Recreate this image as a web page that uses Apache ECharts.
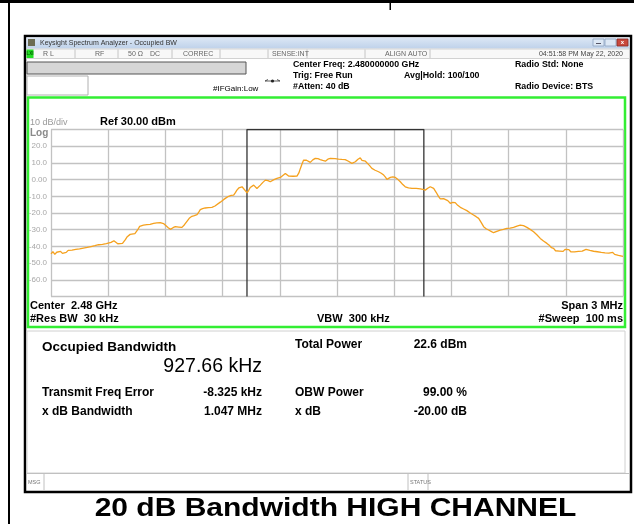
<!DOCTYPE html>
<html>
<head>
<meta charset="utf-8">
<script src="https://cdn.jsdelivr.net/npm/echarts@6/dist/echarts.min.js"></script>
<style>
html, body { margin: 0; padding: 0; background: #fff; }
#chart { width: 634px; height: 524px; }
</style>
</head>
<body>
<div id="chart"></div>
<script>
// trace: offset from center 2.48 GHz (kHz) and level (dBm)
const freqKHz = [
  -1500, -1490, -1480, -1470, -1460, -1450, -1440, -1430, -1420, -1410,
  -1400, -1390, -1380, -1370, -1360, -1350, -1340, -1330, -1320, -1310,
  -1300, -1290, -1280, -1270, -1260, -1250, -1240, -1230, -1220, -1210,
  -1200, -1185, -1170, -1160, -1150, -1140, -1125, -1110, -1100, -1085,
  -1075, -1060, -1045, -1035, -1015, -997, -980, -962, -945, -927,
  -910, -900, -885, -874, -860, -848, -830, -813, -800, -787,
  -775, -761, -748, -734, -725, -717, -705, -691, -675, -656,
  -640, -630, -612, -595, -580, -568, -555, -542, -533, -525,
  -515, -507, -498, -490, -480, -472, -463, -455, -446, -437,
  -428, -420, -410, -402, -390, -376, -362, -350, -333, -315,
  -297, -284, -271, -262, -254, -230, -210, -200, -192, -183,
  -175, -160, -150, -140, -127, -114, -100, -88, -75, -61,
  -48, -35, -26, -10, 8, 25, 43, 60, 78, 88,
  96, 110, 122, 131, 140, 149, 157, 170, 183, 200,
  218, 232, 245, 254, 262, 271, 280, 293, 306, 320,
  332, 345, 358, 375, 393, 415, 437, 450, 463, 476,
  489, 498, 507, 520, 533, 542, 550, 559, 568, 581,
  594, 607, 620, 633, 647, 664, 681, 699, 716, 730,
  743, 756, 769, 782, 795, 808, 821, 838, 856, 873,
  891, 908, 926, 944, 961, 978, 996, 1013, 1031, 1048,
  1066, 1083, 1101, 1115, 1125, 1136, 1146, 1156, 1166, 1176,
  1186, 1196, 1206, 1216, 1226, 1236, 1246, 1256, 1266, 1276,
  1286, 1296, 1306, 1316, 1326, 1336, 1346, 1356, 1366, 1376,
  1386, 1396, 1406, 1416, 1426, 1436, 1446, 1456, 1466, 1476,
  1486, 1500
];
const levelDbm = [
  -44.5, -43.2, -44.8, -43.5, -44.0, -43.0, -44.2, -43.1, -43.6, -42.4,
  -43.4, -42.2, -43.0, -41.8, -42.6, -41.5, -42.3, -41.0, -41.9, -40.6,
  -41.2, -40.1, -40.8, -39.6, -40.2, -39.0, -39.6, -38.8, -39.2, -38.3,
  -38.4, -37.6, -36.6, -37.6, -38.4, -37.9, -38.2, -36.0, -34.2, -32.8,
  -32.0, -32.3, -30.0, -28.0, -27.3, -27.0, -26.8, -26.2, -25.9, -25.8,
  -26.3, -27.0, -28.8, -29.8, -28.8, -28.2, -28.4, -28.6, -27.0, -25.0,
  -23.2, -22.0, -21.6, -21.0, -19.5, -18.0, -17.4, -17.0, -16.8, -16.6,
  -15.8, -15.0, -13.5, -12.0, -10.8, -10.0, -9.4, -9.3, -7.8, -6.3,
  -5.0, -4.0, -4.3, -5.3, -6.8, -8.0, -6.4, -4.7, -3.8, -3.3,
  -4.2, -5.3, -4.4, -3.3, -1.8, -0.3, -0.6, -1.3, -0.2, 0.7,
  1.3, 2.5, 3.7, 2.8, 2.1, 2.0, 2.1, 4.0, 6.7, 9.5,
  11.7, 11.6, 10.8, 10.3, 11.8, 12.7, 12.5, 12.0, 11.5, 11.0,
  12.2, 12.7, 13.0, 12.6, 12.3, 12.1, 12.0, 11.0, 9.7, 10.2,
  10.7, 12.2, 13.0, 11.5, 10.7, 11.0, 11.0, 8.5, 6.7, 5.6,
  4.7, 3.8, 2.7, 1.5, 0.1, 1.0, 1.3, 1.6, 1.3, 0.0,
  -1.3, -3.0, -4.3, -5.0, -5.3, -5.3, -5.5, -5.8, -6.3, -5.2,
  -4.3, -4.6, -5.3, -7.6, -10.2, -11.5, -12.2, -11.4, -10.6, -12.6,
  -14.2, -13.7, -13.8, -15.4, -16.6, -17.6, -18.6, -20.0, -21.2, -22.2,
  -23.2, -25.6, -28.2, -29.4, -30.2, -31.0, -31.8, -31.0, -30.2, -29.8,
  -29.2, -29.0, -28.6, -27.8, -27.2, -27.6, -28.6, -29.8, -31.2, -33.0,
  -35.2, -36.8, -38.2, -39.5, -40.8, -41.2, -42.6, -41.6, -42.8, -42.0,
  -43.0, -41.8, -42.6, -41.9, -43.2, -42.4, -43.3, -42.2, -43.0, -41.9,
  -42.8, -42.3, -41.8, -42.9, -42.4, -43.5, -42.9, -43.8, -43.2, -44.3,
  -43.6, -44.6, -43.9, -44.8, -44.0, -45.0, -43.6, -44.8, -44.2, -45.4,
  -44.6, -46.0
];

// measurement results
const obwKHz = 927.66;
const freqErrKHz = -8.325;

// y tick labels (ref 30 dBm, 10 dB/div)
const yTickValues = [20, 10, 0, -10, -20, -30, -40, -50, -60];
const yTickLabels = ['20.0', '10.0', '0.00', '-10.0', '-20.0', '-30.0', '-40.0', '-50.0', '-60.0'];

const traceData = freqKHz.map((f, i) => [f, levelDbm[i]]);
const obwLo = freqErrKHz - obwKHz / 2;
const obwHi = freqErrKHz + obwKHz / 2;
const obwData = [[obwLo, -70], [obwLo, 30], [obwHi, 30], [obwHi, -70]];

const FONT = "'Liberation Sans', Arial, sans-serif";

function txt(x, y, s, size, color, weight, align) {
  return {
    type: 'text', x: x, y: y, silent: true,
    style: {
      text: s, fill: color || '#000',
      font: (weight || 'normal') + ' ' + size + 'px ' + FONT,
      textAlign: align || 'left', textVerticalAlign: 'middle'
    }
  };
}
function box(x, y, w, h, fill, stroke, lw) {
  return {
    type: 'rect', silent: true,
    shape: { x: x, y: y, width: w, height: h },
    style: { fill: fill || 'none', stroke: stroke || 'none', lineWidth: lw || 1 }
  };
}
function ln(x1, y1, x2, y2, color, lw) {
  return {
    type: 'line', silent: true,
    shape: { x1: x1, y1: y1, x2: x2, y2: y2 },
    style: { stroke: color || '#000', lineWidth: lw || 1 }
  };
}

const gfx = [];
// page frame
gfx.push(box(0, 0, 634, 3, '#000'));
gfx.push(box(8, 0, 2, 524, '#000'));
gfx.push(box(389.5, 0, 1.5, 10, '#000'));

// analyzer window
gfx.push(box(25, 36, 606, 456, '#fff', '#000', 2.5));
gfx.push({
  type: 'rect', silent: true,
  shape: { x: 26.5, y: 37.5, width: 603, height: 11 },
  style: {
    fill: { type: 'linear', x: 0, y: 0, x2: 0, y2: 1,
      colorStops: [{ offset: 0, color: '#dce7f5' }, { offset: 1, color: '#bfd2ea' }] }
  }
});
gfx.push(box(28, 39, 7, 7, '#6b6b52'));
gfx.push(txt(40, 43, 'Keysight Spectrum Analyzer - Occupied BW', 7, '#333'));
gfx.push(box(593, 39, 11, 7, '#dde8f5', '#8da2c0', 0.8));
gfx.push(box(605, 39, 11, 7, '#dde8f5', '#8da2c0', 0.8));
gfx.push(box(617, 39, 11, 7, '#c9483c', '#8a2a22', 0.8));
gfx.push(ln(596, 43.5, 601, 43.5, '#556', 1));
gfx.push(txt(622.5, 42.5, 'x', 6, '#fff', 'bold', 'center'));

// status strip
gfx.push(box(26.5, 49, 603, 9.5, '#f8f8f8', '#c8c8c8', 0.8));
gfx.push(box(26.5, 49.5, 7, 8.5, '#22dd22'));
gfx.push(txt(30, 53.8, 'LXI', 4.5, '#060', 'bold', 'center'));
[75, 118, 172, 220, 268, 307, 365, 430].forEach(function (x) {
  gfx.push(ln(x, 49.5, x, 58, '#b8b8b8', 0.8));
});
gfx.push(txt(43, 53.8, 'R L', 7, '#666'));
gfx.push(txt(95, 53.8, 'RF', 7, '#666'));
gfx.push(txt(128, 53.8, '50 Ω', 7, '#666'));
gfx.push(txt(150, 53.8, 'DC', 7, '#666'));
gfx.push(txt(183, 53.8, 'CORREC', 7, '#666'));
gfx.push(txt(272, 53.8, 'SENSE:INT', 7, '#666'));
gfx.push(txt(385, 53.8, 'ALIGN AUTO', 7, '#666'));
gfx.push(txt(623, 53.8, '04:51:58 PM May 22, 2020', 7, '#444', 'normal', 'right'));

// settings area
gfx.push(box(27, 62, 219, 12, '#d6d6d6', '#555', 1));
gfx.push(box(27, 76, 61, 19, '#fff', '#b0b0b0', 1));
gfx.push(txt(213, 89, '#IFGain:Low', 8, '#000'));
gfx.push(ln(265, 81, 280, 81, '#333', 0.8));
gfx.push(ln(265, 81, 268, 79.5, '#333', 0.8));
gfx.push(ln(280, 81, 277, 79.5, '#333', 0.8));
gfx.push({ type: 'circle', silent: true, shape: { cx: 272.5, cy: 81, r: 1.6 }, style: { fill: '#222' } });
gfx.push(txt(293, 65, 'Center Freq: 2.480000000 GHz', 8.8, '#000', 'bold'));
gfx.push(txt(293, 76, 'Trig: Free Run', 8.8, '#000', 'bold'));
gfx.push(txt(293, 87, '#Atten: 40 dB', 8.8, '#000', 'bold'));
gfx.push(txt(404, 76, 'Avg|Hold: 100/100', 8.8, '#000', 'bold'));
gfx.push(txt(515, 65, 'Radio Std: None', 8.8, '#000', 'bold'));
gfx.push(txt(515, 87, 'Radio Device: BTS', 8.8, '#000', 'bold'));

// green graticule frame and its labels
gfx.push(box(28, 97.5, 597, 229.5, 'none', '#33ee33', 2.5));
gfx.push(txt(30, 123, '10 dB/div', 9, '#9a9a9a'));
gfx.push(txt(100, 122, 'Ref 30.00 dBm', 11, '#000', 'bold'));
gfx.push(txt(30, 133, 'Log', 10, '#8a8a8a', 'bold'));
gfx.push(txt(30, 306, 'Center  2.48 GHz', 11, '#000', 'bold'));
gfx.push(txt(30, 319, '#Res BW  30 kHz', 11, '#000', 'bold'));
gfx.push(txt(317, 319, 'VBW  300 kHz', 11, '#000', 'bold'));
gfx.push(txt(623, 306, 'Span 3 MHz', 11, '#000', 'bold', 'right'));
gfx.push(txt(623, 319, '#Sweep  100 ms', 11, '#000', 'bold', 'right'));

// results panel
gfx.push(box(27, 331, 598, 142, 'none', '#d0d0d0', 1));
gfx.push(txt(42, 347, 'Occupied Bandwidth', 13.5, '#000', 'bold'));
gfx.push(txt(262, 367, '927.66 kHz', 19.5, '#000', 'normal', 'right'));
gfx.push(txt(295, 345, 'Total Power', 12, '#000', 'bold'));
gfx.push(txt(467, 345, '22.6 dBm', 12, '#000', 'bold', 'right'));
gfx.push(txt(42, 393, 'Transmit Freq Error', 12, '#000', 'bold'));
gfx.push(txt(262, 393, '-8.325 kHz', 12, '#000', 'bold', 'right'));
gfx.push(txt(295, 393, 'OBW Power', 12, '#000', 'bold'));
gfx.push(txt(467, 393, '99.00 %', 12, '#000', 'bold', 'right'));
gfx.push(txt(42, 412, 'x dB Bandwidth', 12, '#000', 'bold'));
gfx.push(txt(262, 412, '1.047 MHz', 12, '#000', 'bold', 'right'));
gfx.push(txt(295, 412, 'x dB', 12, '#000', 'bold'));
gfx.push(txt(467, 412, '-20.00 dB', 12, '#000', 'bold', 'right'));

// message bar
gfx.push(ln(26.5, 473.5, 629.5, 473.5, '#c0c0c0', 1));
gfx.push(ln(44, 474, 44, 490.5, '#c0c0c0', 1));
gfx.push(ln(408, 474, 408, 490.5, '#c0c0c0', 1));
gfx.push(ln(428, 474, 428, 490.5, '#c0c0c0', 1));
gfx.push(txt(28, 482, 'MSG', 5.5, '#777'));
gfx.push(txt(410, 482, 'STATUS', 5.5, '#777'));

// caption
gfx.push({
  type: 'text', x: 335.5, y: 509, scaleX: 1.2, silent: true,
  style: {
    text: '20 dB Bandwidth HIGH CHANNEL', fill: '#000',
    font: 'bold 25px ' + FONT, textAlign: 'center', textVerticalAlign: 'middle'
  }
});

const chart = echarts.init(document.getElementById('chart'), null, { renderer: 'canvas' });
chart.setOption({
  animation: false,
  backgroundColor: '#fff',
  graphic: { elements: gfx },
  grid: {
    left: 51, top: 129.5, width: 572, height: 167,
    show: true, borderColor: '#808080', borderWidth: 1.5, backgroundColor: '#fff',
    containLabel: false
  },
  xAxis: {
    type: 'value', min: -1500, max: 1500, interval: 300,
    axisLine: { show: false }, axisTick: { show: false }, axisLabel: { show: false },
    splitLine: { show: true, lineStyle: { color: '#c2c2c2', width: 1.3 } }
  },
  yAxis: {
    type: 'value', min: -70, max: 30, interval: 10,
    axisLine: { show: false }, axisTick: { show: false },
    axisLabel: {
      margin: 4, fontSize: 8, color: '#a8a8a8', fontFamily: FONT,
      formatter: function (v) {
        const i = yTickValues.indexOf(v);
        return i >= 0 ? yTickLabels[i] : '';
      }
    },
    splitLine: { show: true, lineStyle: { color: '#c2c2c2', width: 1.3 } }
  },
  series: [
    {
      name: 'OBW', type: 'line', data: obwData, showSymbol: false, silent: true,
      lineStyle: { color: '#333', width: 1.3 }, z: 3
    },
    {
      name: 'Trace', type: 'line', data: traceData, showSymbol: false, silent: true,
      lineStyle: { color: '#f5a11e', width: 1.3 }, z: 4
    }
  ]
});
</script>
</body>
</html>
